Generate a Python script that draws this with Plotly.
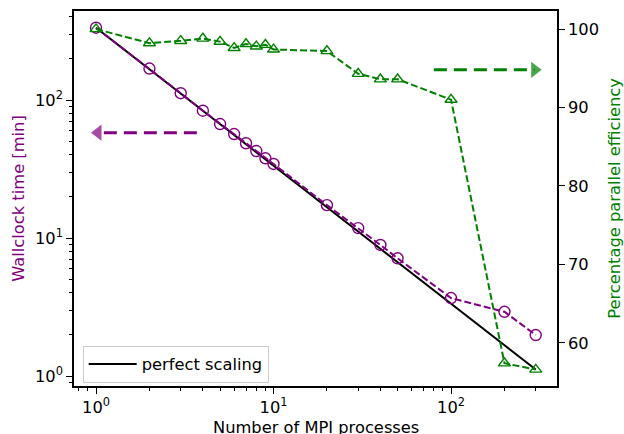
import plotly.graph_objects as go

procs = [1, 2, 3, 4, 5, 6, 7, 8, 9, 10, 20, 30, 40, 50, 100, 200, 300]
wallclock = [334, 169, 112, 83.6, 67, 56.7, 48.6, 42.7, 37.8, 34.4, 17.3, 11.8, 8.9, 7.13, 3.67, 2.92, 1.98]
efficiency = [100, 98.2, 98.5, 98.8, 98.4, 97.6, 98.1, 97.8, 98.0, 97.4, 97.2, 94.3, 93.6, 93.6, 91.0, 57.4, 56.6]
perfect = [wallclock[0] / n for n in procs]

# arrow annotations (data coordinates)
arrow_left_x = [3.7, 1.026]
arrow_left_y = [58, 58]
arrow_right_x = [80, 296]
arrow_right_y = [94.8, 94.8]

PURPLE = "#800080"
GREEN = "#008000"
FONT = "DejaVu Sans"
FS = 16.3

fig = go.Figure()

fig.add_trace(go.Scatter(x=procs, y=perfect, mode="lines", name="perfect scaling",
                         line=dict(color="black", width=2), yaxis="y"))
fig.add_trace(go.Scatter(x=procs, y=wallclock, mode="lines+markers", showlegend=False,
                         line=dict(color=PURPLE, width=2, dash="7px,3px"),
                         marker=dict(symbol="circle-open", size=11, color=PURPLE, line=dict(width=1.4)),
                         yaxis="y"))
fig.add_trace(go.Scatter(x=arrow_left_x, y=arrow_left_y, mode="lines+markers", showlegend=False,
                         line=dict(color=PURPLE, width=3, dash="13px,7px"),
                         marker=dict(symbol=["circle", "triangle-left"], size=[0, 14], color=PURPLE,
                                     line=dict(width=0)),
                         yaxis="y"))
fig.add_trace(go.Scatter(x=procs, y=efficiency, mode="lines+markers", showlegend=False,
                         line=dict(color=GREEN, width=2, dash="7px,3px"),
                         marker=dict(symbol="triangle-up-open", size=10.5, color=GREEN, line=dict(width=1.4)),
                         yaxis="y2"))
fig.add_trace(go.Scatter(x=arrow_right_x, y=arrow_right_y, mode="lines+markers", showlegend=False,
                         line=dict(color=GREEN, width=3, dash="13px,7px"),
                         marker=dict(symbol=["circle", "triangle-right"], size=[0, 14], color=GREEN,
                                     line=dict(width=0)),
                         yaxis="y2"))

minor_vals = [m * 10 ** e for e in range(-1, 3) for m in range(2, 10)]

fig.update_layout(
    width=624, height=434,
    margin=dict(l=74, r=67, t=11, b=48),
    paper_bgcolor="white", plot_bgcolor="white",
    font=dict(family=FONT, size=FS, color="black"),
    xaxis=dict(type="log", range=[-0.124, 2.597], automargin=False,
               tickvals=[1, 10, 100], ticktext=["10<sup>0</sup>", "10<sup>1</sup>", "10<sup>2</sup>"],
               ticks="outside", ticklen=6, tickwidth=1.2, tickcolor="black",
               minor=dict(tickvals=minor_vals, ticks="outside", ticklen=3.5, tickwidth=1, tickcolor="black"),
               showline=True, linecolor="black", linewidth=1.5, mirror=True,
               showgrid=False, zeroline=False),
    yaxis=dict(type="log", range=[-0.0725, 2.645], automargin=False,
               tickvals=[1, 10, 100], ticktext=["10<sup>0</sup>", "10<sup>1</sup>", "10<sup>2</sup>"],
               ticks="outside", ticklen=6, tickwidth=1.2, tickcolor="black",
               minor=dict(tickvals=minor_vals, ticks="outside", ticklen=3.5, tickwidth=1, tickcolor="black"),
               showline=True, linecolor="black", linewidth=1.5, mirror=True,
               showgrid=False, zeroline=False,
               title=dict(text="Wallclock time [min]", standoff=6, font=dict(size=FS, color=PURPLE))),
    yaxis2=dict(overlaying="y", side="right", range=[54.5, 102.3], automargin=False,
                tickvals=[60, 70, 80, 90, 100],
                ticks="outside", ticklen=6, tickwidth=1.2, tickcolor="black",
                showline=True, linecolor="black", linewidth=1.5,
                showgrid=False, zeroline=False,
                title=dict(text="Percentage parallel efficiency", standoff=16, font=dict(size=FS, color=GREEN))),
    legend=dict(x=0.018, y=0.008, xanchor="left", yanchor="bottom",
                bgcolor="rgba(255,255,255,0.8)", bordercolor="#cccccc", borderwidth=1,
                itemwidth=48, font=dict(size=FS)),
    annotations=[dict(text="Number of MPI processes", xref="paper", yref="paper",
                      x=0.5, y=-0.111, xanchor="center", yanchor="middle",
                      showarrow=False, font=dict(size=FS, color="black"))],
)

fig.write_html("out.html")
